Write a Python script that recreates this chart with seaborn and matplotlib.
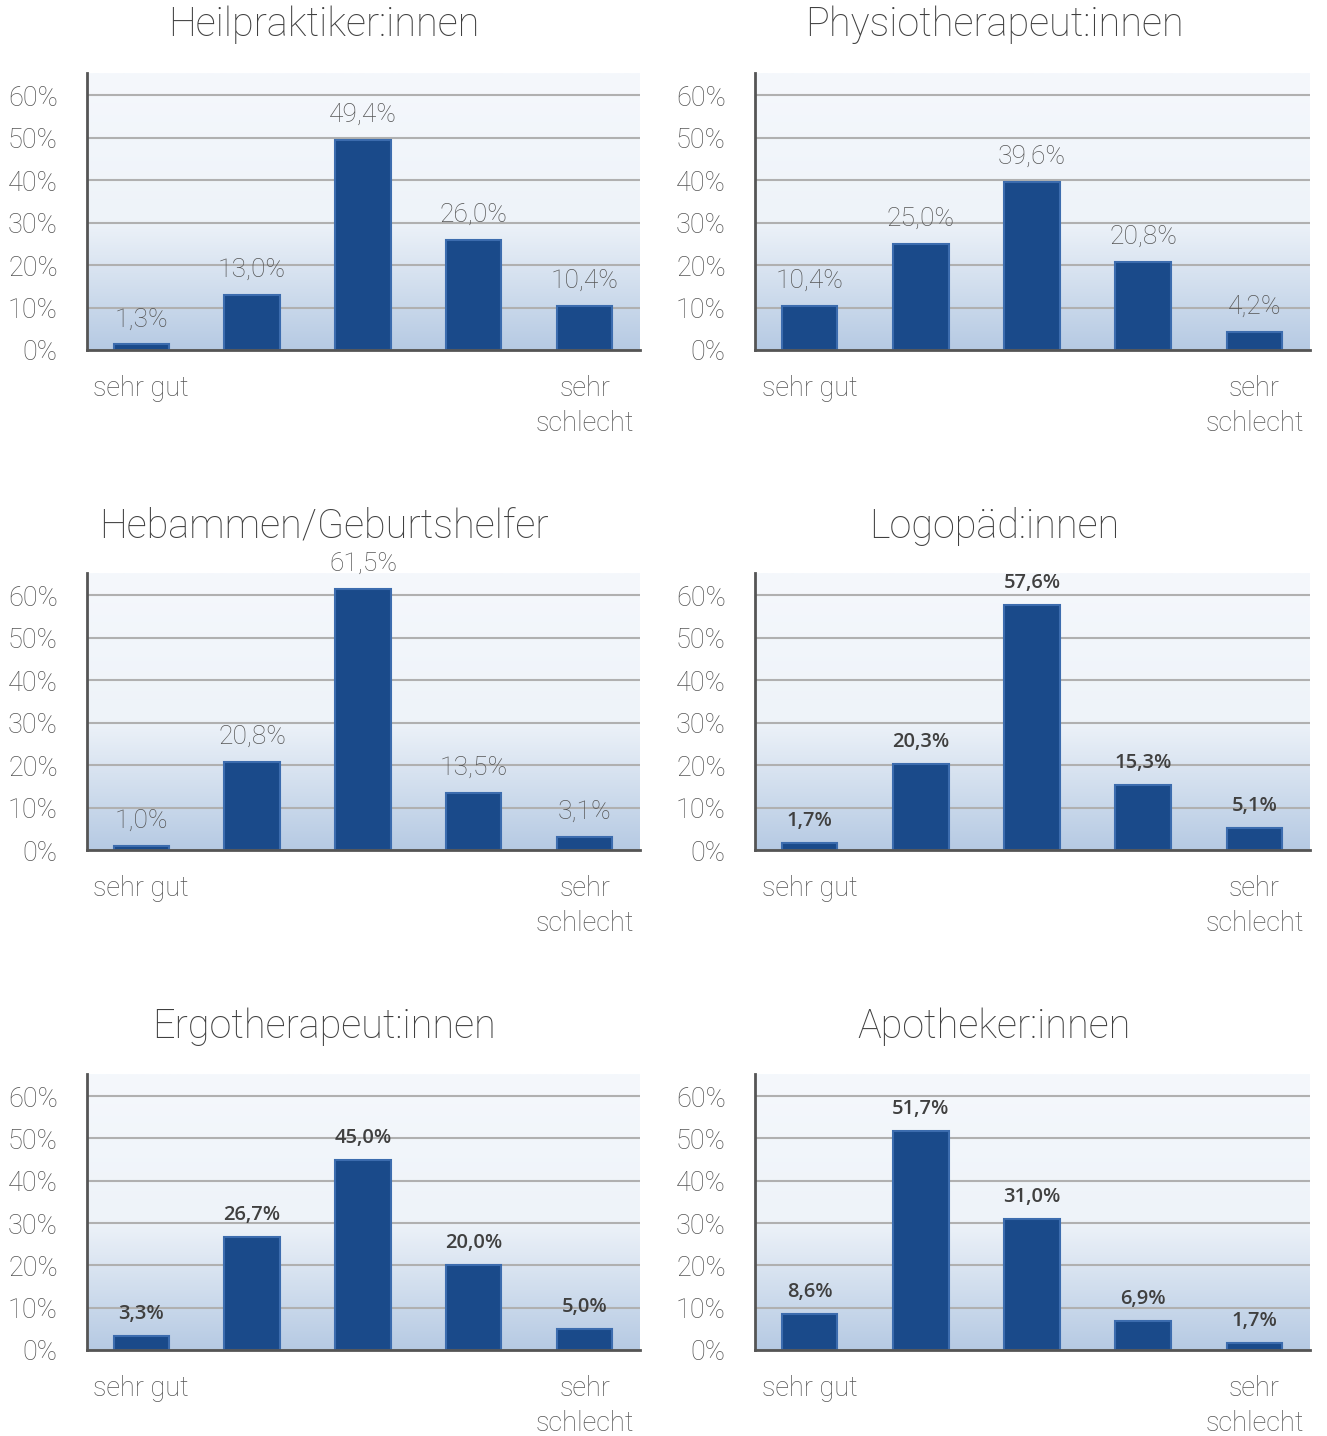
import numpy as np
import pandas as pd
import matplotlib.pyplot as plt
from matplotlib.colors import LinearSegmentedColormap
import seaborn as sns

# Data
titles = ["Heilpraktiker:innen", "Physiotherapeut:innen", "Hebammen/Geburtshelfer",
          "Logopäd:innen", "Ergotherapeut:innen", "Apotheker:innen"]
categories = ["1", "2", "3", "4", "5"]
tick_labels = ["sehr gut", "", "", "", "sehr\nschlecht"]
heilpraktiker = [1.3, 13.0, 49.4, 26.0, 10.4]
physio = [10.4, 25.0, 39.6, 20.8, 4.2]
hebammen = [1.0, 20.8, 61.5, 13.5, 3.1]
logopaeden = [1.7, 20.3, 57.6, 15.3, 5.1]
ergo = [3.3, 26.7, 45.0, 20.0, 5.0]
apotheker = [8.6, 51.7, 31.0, 6.9, 1.7]
series = [heilpraktiker, physio, hebammen, logopaeden, ergo, apotheker]
# the last three panels use a bolder label font in the original
bold_labels = [False, False, False, True, True, True]

sns.set_theme(style="white")
plt.rcParams['font.family'] = ['Roboto', 'DejaVu Sans']
thin = dict(fontfamily="Roboto", fontweight="light")

W, H = 1327, 1436
fig = plt.figure(figsize=(W / 100, H / 100), dpi=100)

bg_cmap = LinearSegmentedColormap.from_list(
    "bg", [(0.0, "#b6cae3"), (0.47, "#eef3f9"), (1.0, "#f5f8fc")])
grad = np.linspace(0, 1, 256).reshape(-1, 1)

col_x = [(87, 640), (755, 1310)]
row_y = [(73, 350), (573, 850), (1074, 1350)]
title_y = [25, 526, 1027]
title_x = [324, 994]
bar_color = "#1a4a8a"
text_gray = "#555555"

for i, (title, vals) in enumerate(zip(titles, series)):
    r, c = divmod(i, 2)
    x0, x1 = col_x[c]
    y0, y1 = row_y[r]
    ax = fig.add_axes([x0 / W, 1 - y1 / H, (x1 - x0) / W, (y1 - y0) / H])

    df = pd.DataFrame({"cat": categories, "val": vals})
    sns.barplot(data=df, x="cat", y="val", color=bar_color, width=0.5,
                saturation=1, edgecolor="#3c6cae", linewidth=1.5, ax=ax, zorder=3)

    ax.set_xlim(-0.49, 4.5)
    ax.set_ylim(0, 65.2)
    ax.imshow(grad, cmap=bg_cmap, extent=[-0.49, 4.5, 0, 65.2], origin="lower",
              aspect="auto", zorder=0)

    ax.set_yticks(range(0, 61, 10))
    ax.set_yticklabels([f"{t}%" for t in range(0, 61, 10)], fontsize=19.5,
                       color=text_gray, **thin)
    ax.yaxis.grid(True, color="#b0b0b0", linewidth=1.5, zorder=1)
    ax.set_axisbelow(True)
    ax.set_xticks(range(5))
    ax.set_xticklabels(tick_labels, fontsize=19.5, color=text_gray,
                       linespacing=1.4, **thin)
    ax.tick_params(axis="both", length=0)
    ax.tick_params(axis="x", pad=18)
    ax.tick_params(axis="y", pad=21)
    ax.set_xlabel("")
    ax.set_ylabel("")

    for s in ["top", "right"]:
        ax.spines[s].set_visible(False)
    for s in ["left", "bottom"]:
        ax.spines[s].set_color("#555555")
        ax.spines[s].set_linewidth(2)
        ax.spines[s].set_zorder(4)

    for j, v in enumerate(vals):
        label = f"{v:.1f}%".replace(".", ",")
        if bold_labels[i]:
            ax.text(j, v + 2.8, label, ha="center", va="bottom", fontsize=14.5,
                    color="#404040", fontfamily="Open Sans", fontweight="semibold", zorder=5)
        else:
            ax.text(j, v + 3.1, label, ha="center", va="bottom", fontsize=19,
                    color=text_gray, zorder=5, **thin)

    fig.text(title_x[c] / W, 1 - title_y[r] / H, title, ha="center", va="center",
             fontsize=28.5, color="#404040", **thin)

fig.savefig("out.png", dpi=100)
